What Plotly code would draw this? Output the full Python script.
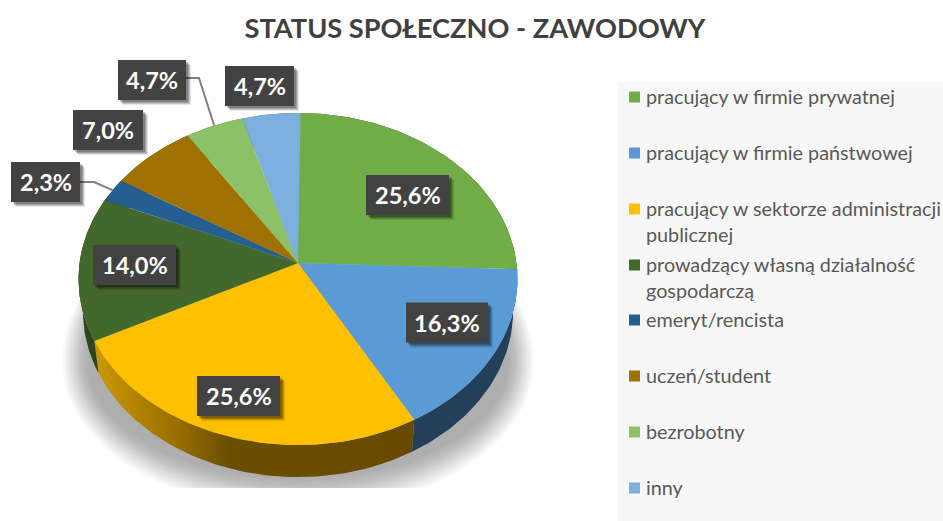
import numpy as np
import plotly.graph_objects as go

# Data
categories = ["pracujący w firmie prywatnej", "pracujący w firmie państwowej",
              "pracujący w sektorze administracji<br>publicznej",
              "prowadzący własną działalność<br>gospodarczą",
              "emeryt/rencista", "uczeń/student", "bezrobotny", "inny"]
values = [25.6, 16.3, 25.6, 14.0, 2.3, 7.0, 4.7, 4.7]
title = "STATUS SPOŁECZNO - ZAWODOWY"

# Styles
top_colors = ["#70AD47", "#5B9BD5", "#FFC000", "#43682B", "#255E91", "#9E7100", "#8CC168", "#7CAFDD"]
side_colors = ["#36541f", "#243F5A", None, "#2C451C", "#16385A", "#5E4400", "#54743C", "#4A6A86"]

# Layout geometry of the projected disc (px in a 943x521 frame)
W, H = 943, 521
CX, CY, RX, RY, K = 298, 263, 218.5, 164.5, 0.0964
DEPTH, BOTTOM_SCALE = 32, 0.98
label_centers = [(407.5, 195), (447, 322.5), (238.5, 396), (134.5, 265),
                 (45.5, 182), (108, 130), (152, 80), (259.5, 86)]
label_widths = [83, 82, 83, 83, 69, 70, 68, 69]
label_height = 40
legend_rows = [97, 153, 209, 265, 320, 376, 432, 488]
leaders = {4: [(80, 182), (94, 182)], 6: [(186, 78), (199, 78)]}


def rim(pct):
    a = np.asarray(pct) / 100 * 2 * np.pi
    u, v = np.sin(a), -np.cos(a)
    s = 1 / (1 - K * v)
    return RX * u * s, RY * v * s


def top_xy(pct):
    dx, dy = rim(pct)
    return CX + dx, CY + dy


def low_xy(pct):
    dx, dy = rim(pct)
    return CX + dx * BOTTOM_SCALE, CY + dy + DEPTH


fig = go.Figure()

# Legend panel
shapes = [dict(type="rect", xref="x", yref="y", x0=618, x1=W, y0=82, y1=H,
               fillcolor="#F7F7F7", line_width=0, layer="below")]

# Soft shadow beneath the disc
layers = 30
for i in range(layers):
    f = i / (layers - 1)
    t = np.linspace(0, 2 * np.pi, 181)
    rx = 236 - 26 * f
    low = 150 - 34 * f
    cy = 362
    sx = CX + rx * np.cos(t)
    sy = cy + np.where(np.sin(t) > 0, low, 170) * np.sin(t)
    sy = np.minimum(sy, 488)
    fig.add_trace(go.Scatter(x=sx, y=sy, mode="lines", line_width=0, fill="toself",
                             fillcolor="rgba(80,80,80,0.014)", hoverinfo="skip", showlegend=False))

edges = np.concatenate([[0], np.cumsum(values)])

# Side walls
for i in range(len(values)):
    p = np.linspace(edges[i], edges[i + 1], 60)
    tx, ty = top_xy(p)
    bx, by = low_xy(p)
    px = np.concatenate([tx, bx[::-1], tx[:1]])
    py = np.concatenate([ty, by[::-1], ty[:1]])
    kw = dict(fillcolor=side_colors[i]) if side_colors[i] else dict(
        fillgradient=dict(type="horizontal",
                          colorscale=[[0, "#CC9900"], [0.25, "#9A7000"], [0.42, "#6C4E00"], [1, "#664A00"]]))
    fig.add_trace(go.Scatter(x=px, y=py, mode="lines", line_width=0, fill="toself",
                             hoverinfo="skip", showlegend=False, **kw))

# Top faces
for i, (cat, val) in enumerate(zip(categories, values)):
    p = np.linspace(edges[i], edges[i + 1], 90)
    tx, ty = top_xy(p)
    px = np.concatenate([[CX], tx, [CX]])
    py = np.concatenate([[CY], ty, [CY]])
    fig.add_trace(go.Scatter(x=px, y=py, mode="lines", line_width=0, fill="toself",
                             fillcolor=top_colors[i], name=cat.replace("<br>", " "),
                             text=f"{val:.1f}%".replace(".", ","), hoverinfo="name+text",
                             showlegend=False))

# Legend swatches
fig.add_trace(go.Scatter(x=[634.5] * len(categories), y=legend_rows, mode="markers",
                         marker=dict(symbol="square", size=11, color=top_colors, line_width=0),
                         hoverinfo="skip", showlegend=False))

annotations = []
for cat, row in zip(categories, legend_rows):
    annotations.append(dict(x=644, y=row - 15, xref="x", yref="y", text=cat, showarrow=False,
                            xanchor="left", yanchor="top", align="left",
                            font=dict(family="Lato", size=19.8, color="#595959")))

# Leader lines
for i, pts in leaders.items():
    mid = (edges[i] + edges[i + 1]) / 2
    ex, ey = top_xy(mid)
    xs = [q[0] for q in pts] + [float(ex)]
    ys = [q[1] for q in pts] + [float(ey)]
    fig.add_trace(go.Scatter(x=xs, y=ys, mode="lines", line=dict(color="#7F7F7F", width=2),
                             hoverinfo="skip", showlegend=False))

# Data-label boxes
for val, (lx, ly), w in zip(values, label_centers, label_widths):
    for off, op in ((5, 0.10), (4, 0.14), (3, 0.18), (2, 0.2)):
        shapes.append(dict(type="rect", xref="x", yref="y", x0=lx - w / 2 + off, x1=lx + w / 2 + off,
                           y0=ly - label_height / 2 + off, y1=ly + label_height / 2 + off,
                           fillcolor=f"rgba(0,0,0,{op})", line_width=0, layer="above"))
    shapes.append(dict(type="rect", xref="x", yref="y", x0=lx - w / 2, x1=lx + w / 2,
                       y0=ly - label_height / 2, y1=ly + label_height / 2,
                       fillcolor="#424242", line_width=0, layer="above"))
    annotations.append(dict(x=lx, y=ly, xref="x", yref="y", text=f"<b>{val:.1f}%</b>".replace(".", ","),
                            showarrow=False, xanchor="center", yanchor="middle",
                            font=dict(family="Lato", size=23.5, color="#FFFFFF")))

fig.update_layout(
    width=W, height=H, margin=dict(l=0, r=0, t=0, b=0),
    paper_bgcolor="#FFFFFF", plot_bgcolor="#FFFFFF", showlegend=False,
    title=dict(text=f"<b>{title}</b>", x=475 / W, y=1 - 28 / H, xanchor="center", yanchor="middle",
               font=dict(family="Lato", size=27.2, color="#404040")),
    xaxis=dict(range=[0, W], visible=False, fixedrange=True),
    yaxis=dict(range=[H, 0], visible=False, fixedrange=True),
    shapes=shapes, annotations=annotations,
)
fig.write_html("out.html", config=dict(displayModeBar=False),
               post_script="document.body.style.margin='0';document.documentElement.style.overflow='hidden';")
